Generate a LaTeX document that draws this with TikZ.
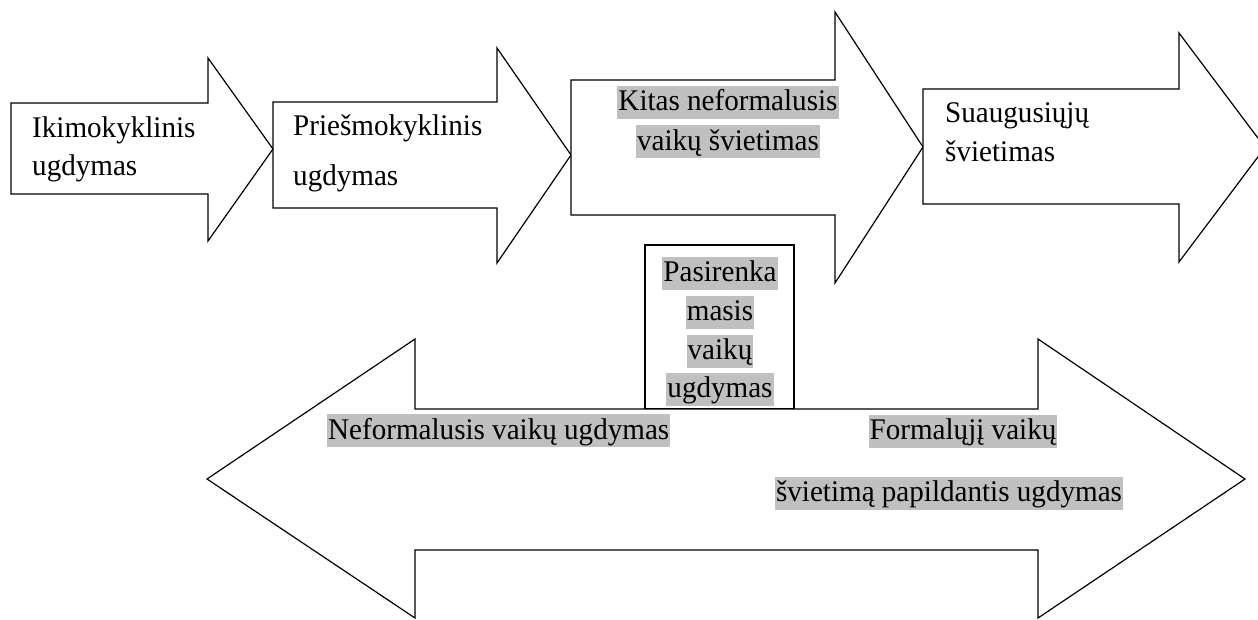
\documentclass[tikz,border=0pt]{standalone}
\usepackage{fontspec}
\setmainfont{Liberation Serif}[FakeStretch=0.97]
\definecolor{hl}{RGB}{192,192,192}
\begin{document}
\begin{tikzpicture}[x=1pt,y=-1pt,
  shp/.style={draw=black,fill=white,line width=1.2pt,line join=miter},
  txt/.style={font=\fontsize{30}{38}\selectfont,inner sep=0pt},
  hltxt/.style={font=\fontsize{30}{38}\selectfont,fill=hl,inner xsep=1pt,inner ysep=0pt,text height=25pt,text depth=8pt}]
\useasboundingbox (0,0) rectangle (1258,619);
\clip (0,0) rectangle (1258,619);
% top row of arrows
\draw[shp] (11,103) -- (208,103) -- (208,58) -- (273,149) -- (208,241) -- (208,194) -- (11,194) -- cycle;
\draw[shp] (273,102) -- (497,102) -- (497,48) -- (571,155) -- (497,263) -- (497,208) -- (273,208) -- cycle;
\draw[shp] (571,80) -- (835,80) -- (835,12) -- (923,147) -- (835,283) -- (835,215) -- (571,215) -- cycle;
\draw[shp] (923,89) -- (1179,89) -- (1179,33) -- (1265,147.5) -- (1179,262) -- (1179,204) -- (923,204) -- cycle;
% box
\draw[shp] (645,245) rectangle (794,409);
% double arrow
\draw[shp] (207,479) -- (415,339) -- (415,409) -- (1038,409) -- (1038,339) -- (1245,479) -- (1038,618) -- (1038,550) -- (415,550) -- (415,618) -- cycle;
% texts
\node[txt,anchor=base west] (ik1) at (32,137) {Ikimokyklinis};
\node[txt,anchor=base west] (ik2) at (32,175) {ugdymas};
\node[txt,anchor=base west] (pr1) at (293,135) {Priešmokyklinis};
\node[txt,anchor=base west] (pr2) at (293,185) {ugdymas};
\node[hltxt] (ki1) at (728,102) {Kitas neformalusis};
\node[hltxt] (ki2) at (728,141.5) {vaikų švietimas};
\node[txt,anchor=base west] (su1) at (945,122) {Suaugusiųjų};
\node[txt,anchor=base west] (su2) at (945,161) {švietimas};
\node[hltxt] (pa1) at (720,273) {Pasirenka};
\node[hltxt] (pa2) at (720,312) {masis};
\node[hltxt] (pa3) at (720,351) {vaikų};
\node[hltxt] (pa4) at (720,389) {ugdymas};
\node[hltxt,anchor=west] (ne) at (327,430.5) {Neformalusis vaikų ugdymas};
\node[hltxt] (fo1) at (963,431) {Formalųjį vaikų};
\node[hltxt] (fo2) at (949,493) {švietimą papildantis ugdymas};
\end{tikzpicture}
\end{document}
